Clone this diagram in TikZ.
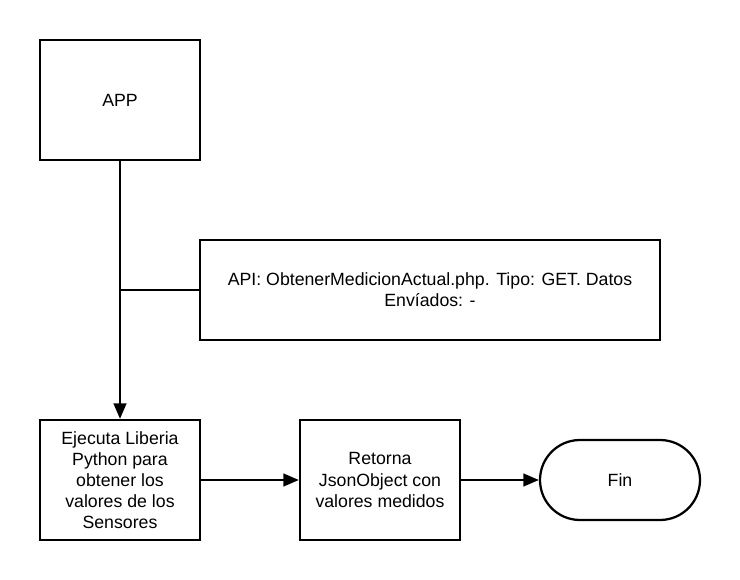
\documentclass[tikz,border=0pt]{standalone}
\usepackage{fontspec}
\setmainfont{Liberation Sans}
\usepackage{tikz}
\usetikzlibrary{arrows.meta,positioning}

\begin{document}
\begin{tikzpicture}[
    block/.style={draw=black, line width=1.6pt, fill=white,
                  minimum width=4cm, minimum height=3cm,
                  font=\fontsize{12.6pt}{15pt}\selectfont, align=center, inner sep=2pt},
    terminal/.style={block, minimum height=2cm, rounded corners=1cm},
    arrow/.style={-{Triangle[length=11pt, width=9pt]}, line width=1.6pt},
    line/.style={line width=1.6pt},
  ]
    \useasboundingbox (0,0) rectangle (18.5,-14.5);
    \node[block] (app)  at (3,-2.5)     {APP};
    \node[block, minimum width=11.5cm, minimum height=2.5cm] (api) at (10.75,-7.25)
        {API: ObtenerMedicionActual.php. Tipo: GET. Datos\\Envíados: -};
    \node[block] (ejec) at (3,-12)      {Ejecuta Liberia\\Python para\\obtener los\\valores de los\\Sensores};
    \node[block] (ret)  at (9.5,-12)    {Retorna\\JsonObject con\\valores medidos};
    \node[terminal] (fin) at (15.5,-12) {Fin};
    \coordinate (jn) at (app.south |- api.west);
    \draw[arrow] (app) -- (ejec);
    \draw[line]  (jn)  -- (api);
    \draw[arrow] (ejec) -- (ret);
    \draw[arrow] (ret)  -- (fin);
  \end{tikzpicture}
\end{document}
